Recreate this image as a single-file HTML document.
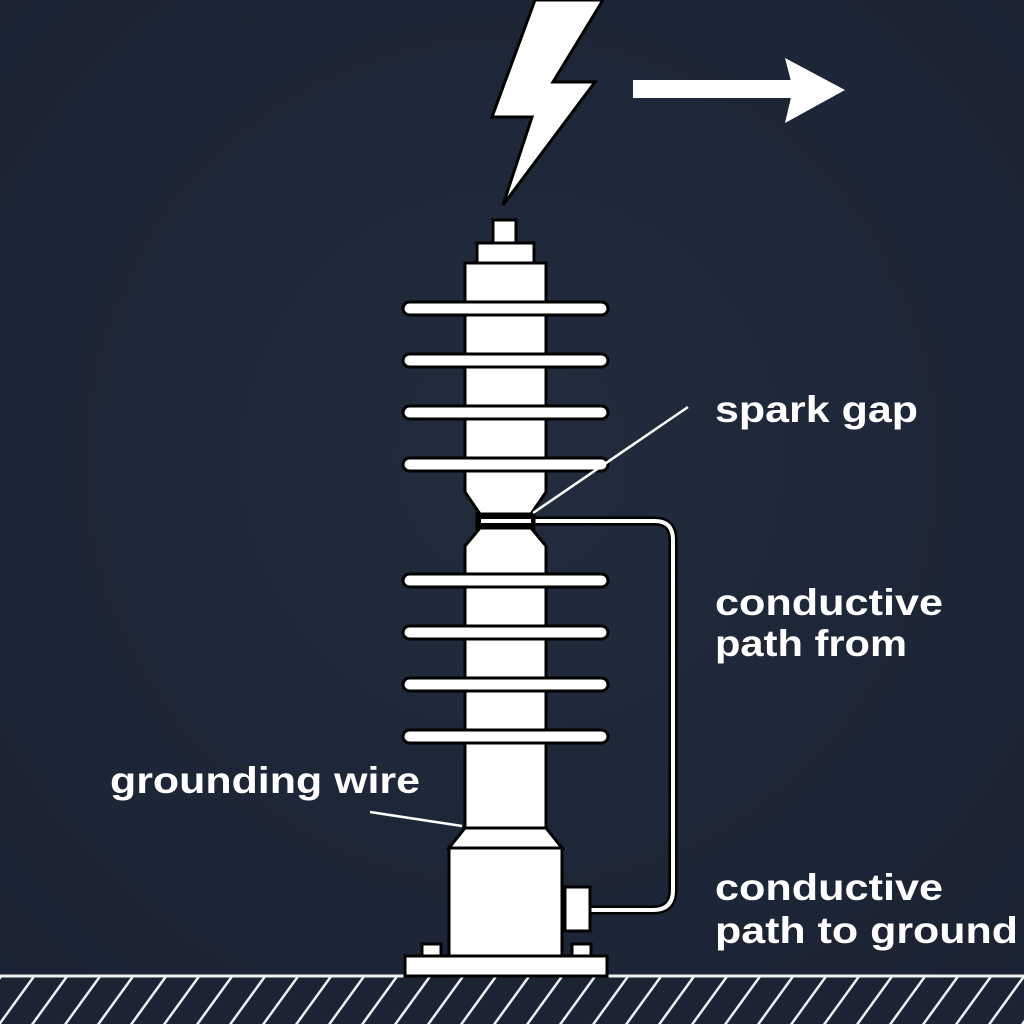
<!DOCTYPE html>
<html><head><style>html,body{margin:0;padding:0;background:#1e2838;}svg{display:block}</style></head>
<body>
<svg width="1024" height="1024" viewBox="0 0 1024 1024" xmlns="http://www.w3.org/2000/svg">
<defs>
<radialGradient id="bg" cx="50%" cy="45%" r="75%"><stop offset="0" stop-color="#222c3c"/><stop offset="1" stop-color="#1a2232"/></radialGradient>
<pattern id="hatch" x="0" y="977" width="33" height="47" patternUnits="userSpaceOnUse"><line x1="35" y1="-2" x2="-2" y2="49" stroke="#eef0f2" stroke-width="2.5"/><line x1="68" y1="-2" x2="31" y2="49" stroke="#eef0f2" stroke-width="2.5"/><line x1="2" y1="-2" x2="-35" y2="49" stroke="#eef0f2" stroke-width="2.5"/></pattern>
</defs>
<rect width="1024" height="1024" fill="url(#bg)"/>
<!-- ground -->
<rect x="0" y="977" width="1024" height="47" fill="#1c2434"/>
<rect x="0" y="977" width="1024" height="47" fill="url(#hatch)"/>
<line x1="0" y1="976" x2="1024" y2="976" stroke="#eef0f2" stroke-width="3"/>
<!-- bolt -->
<polygon points="535,0 603,0 553,82 595,82 503,205 532,117 492,117" fill="#fff" stroke="#000" stroke-width="3"/>
<!-- arrow -->
<rect x="633" y="80" width="160" height="18" fill="#fff"/>
<polygon points="785,58 845,90 785,123 793,89" fill="#fff"/>
<rect x="785" y="80" width="30" height="18" fill="#fff"/>
<g fill="#fff" stroke="#000" stroke-width="3">
<!-- wire -->
<path d="M531,521 H655 Q673,521 673,540 V890 Q673,910 653,910 H590" fill="none" stroke="#000" stroke-width="9"/>
<path d="M531,521 H655 Q673,521 673,540 V890 Q673,910 653,910 H590" fill="none" stroke="#fff" stroke-width="4"/>
<rect x="493" y="220" width="23" height="23"/>
<rect x="477" y="243" width="57" height="20"/>
<polygon points="465,263 546,263 546,492 531,514 480,514 465,492"/>
<rect x="477" y="514" width="57" height="14" fill="#000"/>
<line x1="481" y1="521" x2="531" y2="521" stroke="#fff" stroke-width="4"/>
<polygon points="480,528 531,528 546,546 546,828 465,828 465,546"/>
<polygon points="465,828 546,828 562,848 449,848"/>
<rect x="449" y="848" width="113" height="108"/>
<rect x="565" y="887" width="25" height="44"/>
<rect x="422" y="944" width="19" height="12"/>
<rect x="572" y="944" width="19" height="12"/>
<rect x="405" y="956" width="202" height="20"/>
<g stroke-width="3">
<rect x="403" y="302" width="205" height="13" rx="6.5"/>
<rect x="403" y="354" width="205" height="13" rx="6.5"/>
<rect x="403" y="406" width="205" height="13" rx="6.5"/>
<rect x="403" y="458" width="205" height="13" rx="6.5"/>
<rect x="403" y="574" width="205" height="13" rx="6.5"/>
<rect x="403" y="626" width="205" height="13" rx="6.5"/>
<rect x="403" y="678" width="205" height="13" rx="6.5"/>
<rect x="403" y="730" width="205" height="13" rx="6.5"/>
</g>
</g>
<!-- leader lines -->
<line x1="533" y1="513" x2="688" y2="407" stroke="#fff" stroke-width="2.5"/>
<line x1="370" y1="812" x2="462" y2="826" stroke="#fff" stroke-width="2.5"/>
<g font-family="Liberation Sans, sans-serif" font-weight="bold" font-size="37" fill="#fff">
<text x="715" y="422" textLength="203" lengthAdjust="spacingAndGlyphs">spark gap</text>
<text x="715" y="615" textLength="228" lengthAdjust="spacingAndGlyphs">conductive</text>
<text x="715" y="656" textLength="192" lengthAdjust="spacingAndGlyphs">path from</text>
<text x="715" y="900" textLength="228" lengthAdjust="spacingAndGlyphs">conductive</text>
<text x="715" y="943" textLength="303" lengthAdjust="spacingAndGlyphs">path to ground</text>
<text x="110" y="793" textLength="310" lengthAdjust="spacingAndGlyphs">grounding wire</text>
</g>
</svg>
</body></html>
